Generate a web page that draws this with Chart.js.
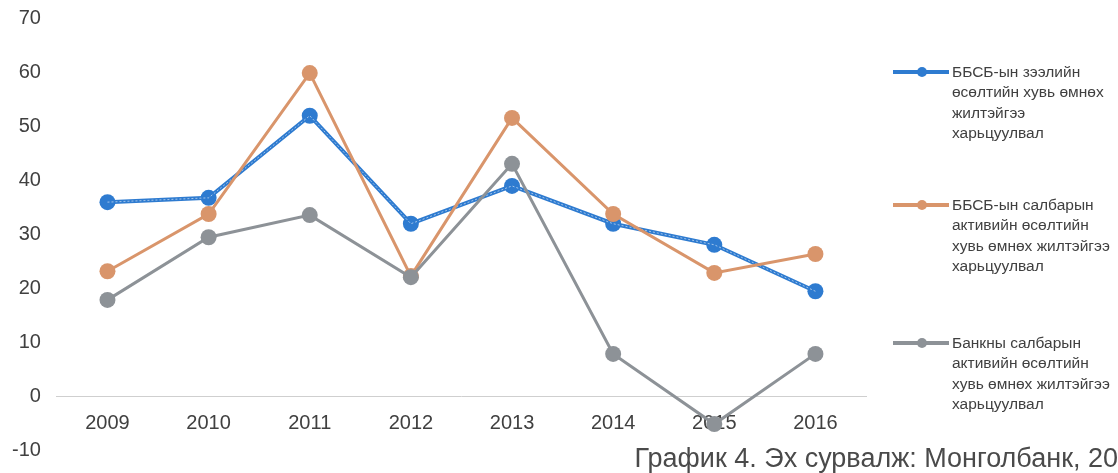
<!DOCTYPE html>
<html>
<head>
<meta charset="utf-8">
<script src="https://cdn.jsdelivr.net/npm/chart.js@4"></script>
<style>
  html, body { margin: 0; padding: 0; background: #fff; }
  #wrap { position: relative; width: 1118px; height: 473px; overflow: hidden; }
  #chart { position: absolute; left: -4px; top: -10px; }
  #legend { position: absolute; left: 893px; top: 0; width: 225px; font-family: 'Liberation Sans', Arial, sans-serif; font-size: 15.5px; color: #404040; }
  .item { position: absolute; left: 0; }
  .swatch { position: absolute; left: 0; top: 8px; width: 56px; height: 4px; }
  .swatch span { position: absolute; left: 24px; top: -3px; width: 10px; height: 10px; border-radius: 50%; }
  .txt { margin-left: 59px; line-height: 20.3px; white-space: nowrap; }
  #caption { position: absolute; right: 0; top: 443px; font-family: 'Liberation Sans', Arial, sans-serif; font-size: 27px; color: #4a4a4a; white-space: nowrap; }
</style>
</head>
<body>
<div id="wrap">
  <canvas id="chart" width="1122" height="488"></canvas>
  <div id="legend"></div>
  <div id="caption">График 4. Эх сурвалж: Монголбанк, 20</div>
</div>
<script>
const years = ['2009', '2010', '2011', '2012', '2013', '2014', '2015', '2016'];
const nbfiLoans = [35.9, 36.7, 51.9, 31.9, 38.9, 31.9, 28.0, 19.4];
const nbfiAssets = [23.1, 33.7, 59.8, 22.2, 51.5, 33.7, 22.8, 26.3];
const bankAssets = [17.8, 29.4, 33.5, 22.0, 43.0, 7.8, -5.2, 7.8];
const seriesNames = [
  ['ББСБ-ын зээлийн', 'өсөлтийн хувь өмнөх', 'жилтэйгээ', 'харьцуулвал'],
  ['ББСБ-ын салбарын', 'активийн өсөлтийн', 'хувь өмнөх жилтэйгээ', 'харьцуулвал'],
  ['Банкны салбарын', 'активийн өсөлтийн', 'хувь өмнөх жилтэйгээ', 'харьцуулвал']
];
const yTicks = [-10, 0, 10, 20, 30, 40, 50, 60, 70];

const colors = ['#2e7bd0', '#d9956b', '#8d9297'];
const legendTops = [62, 195, 333];
const tickFont = { family: "'Liberation Sans', Arial, sans-serif", size: 20 };

// light dotted stripe along the first series, like in the scan
const dottedStripe = {
  id: 'dottedStripe',
  afterDatasetDraw(chart, args) {
    if (args.index !== 0) return;
    const pts = args.meta.data;
    const c = chart.ctx;
    c.save();
    c.strokeStyle = 'rgba(255,255,255,0.55)';
    c.lineWidth = 1;
    c.setLineDash([2, 2]);
    c.beginPath();
    pts.forEach((p, i) => (i ? c.lineTo(p.x, p.y) : c.moveTo(p.x, p.y)));
    c.stroke();
    c.restore();
  }
};

const ctx = document.getElementById('chart').getContext('2d');
const chart = new Chart(ctx, {
  type: 'line',
  data: {
    labels: years,
    datasets: [nbfiLoans, nbfiAssets, bankAssets].map((values, i) => ({
      label: seriesNames[i].join(' '),
      data: values,
      borderColor: colors[i],
      backgroundColor: colors[i],
      borderWidth: i === 0 ? 4 : 3,
      pointRadius: 8,
      pointHoverRadius: 8,
      pointBorderWidth: 0,
      tension: 0,
      order: 3 - i
    }))
  },
  options: {
    responsive: false,
    animation: false,
    layout: { padding: { left: 0, right: 252, top: 0, bottom: 12 } },
    scales: {
      x: {
        position: { y: 0 },
        offset: true,
        grid: { display: false, drawTicks: false },
        border: { display: true, color: '#cfcfcf', width: 1, dash: [5, 3] },
        ticks: { padding: 15, color: '#404040', font: tickFont }
      },
      y: {
        min: -10,
        max: 70,
        afterBuildTicks: (axis) => { axis.ticks = yTicks.map(v => ({ value: v })); },
        grid: { display: false, drawTicks: false },
        border: { display: false },
        ticks: { padding: 16, color: '#404040', font: tickFont }
      }
    },
    plugins: {
      legend: { display: false },
      tooltip: { enabled: false }
    }
  },
  plugins: [dottedStripe]
});

// legend on the right, built from the datasets
const legend = document.getElementById('legend');
chart.data.datasets.forEach((ds, i) => {
  const item = document.createElement('div');
  item.className = 'item';
  item.style.top = legendTops[i] + 'px';
  item.innerHTML = '<div class="swatch" style="background:' + ds.borderColor + '"><span style="background:' +
    ds.borderColor + '"></span></div><div class="txt">' + seriesNames[i].join('<br>') + '</div>';
  legend.appendChild(item);
});
</script>
</body>
</html>
